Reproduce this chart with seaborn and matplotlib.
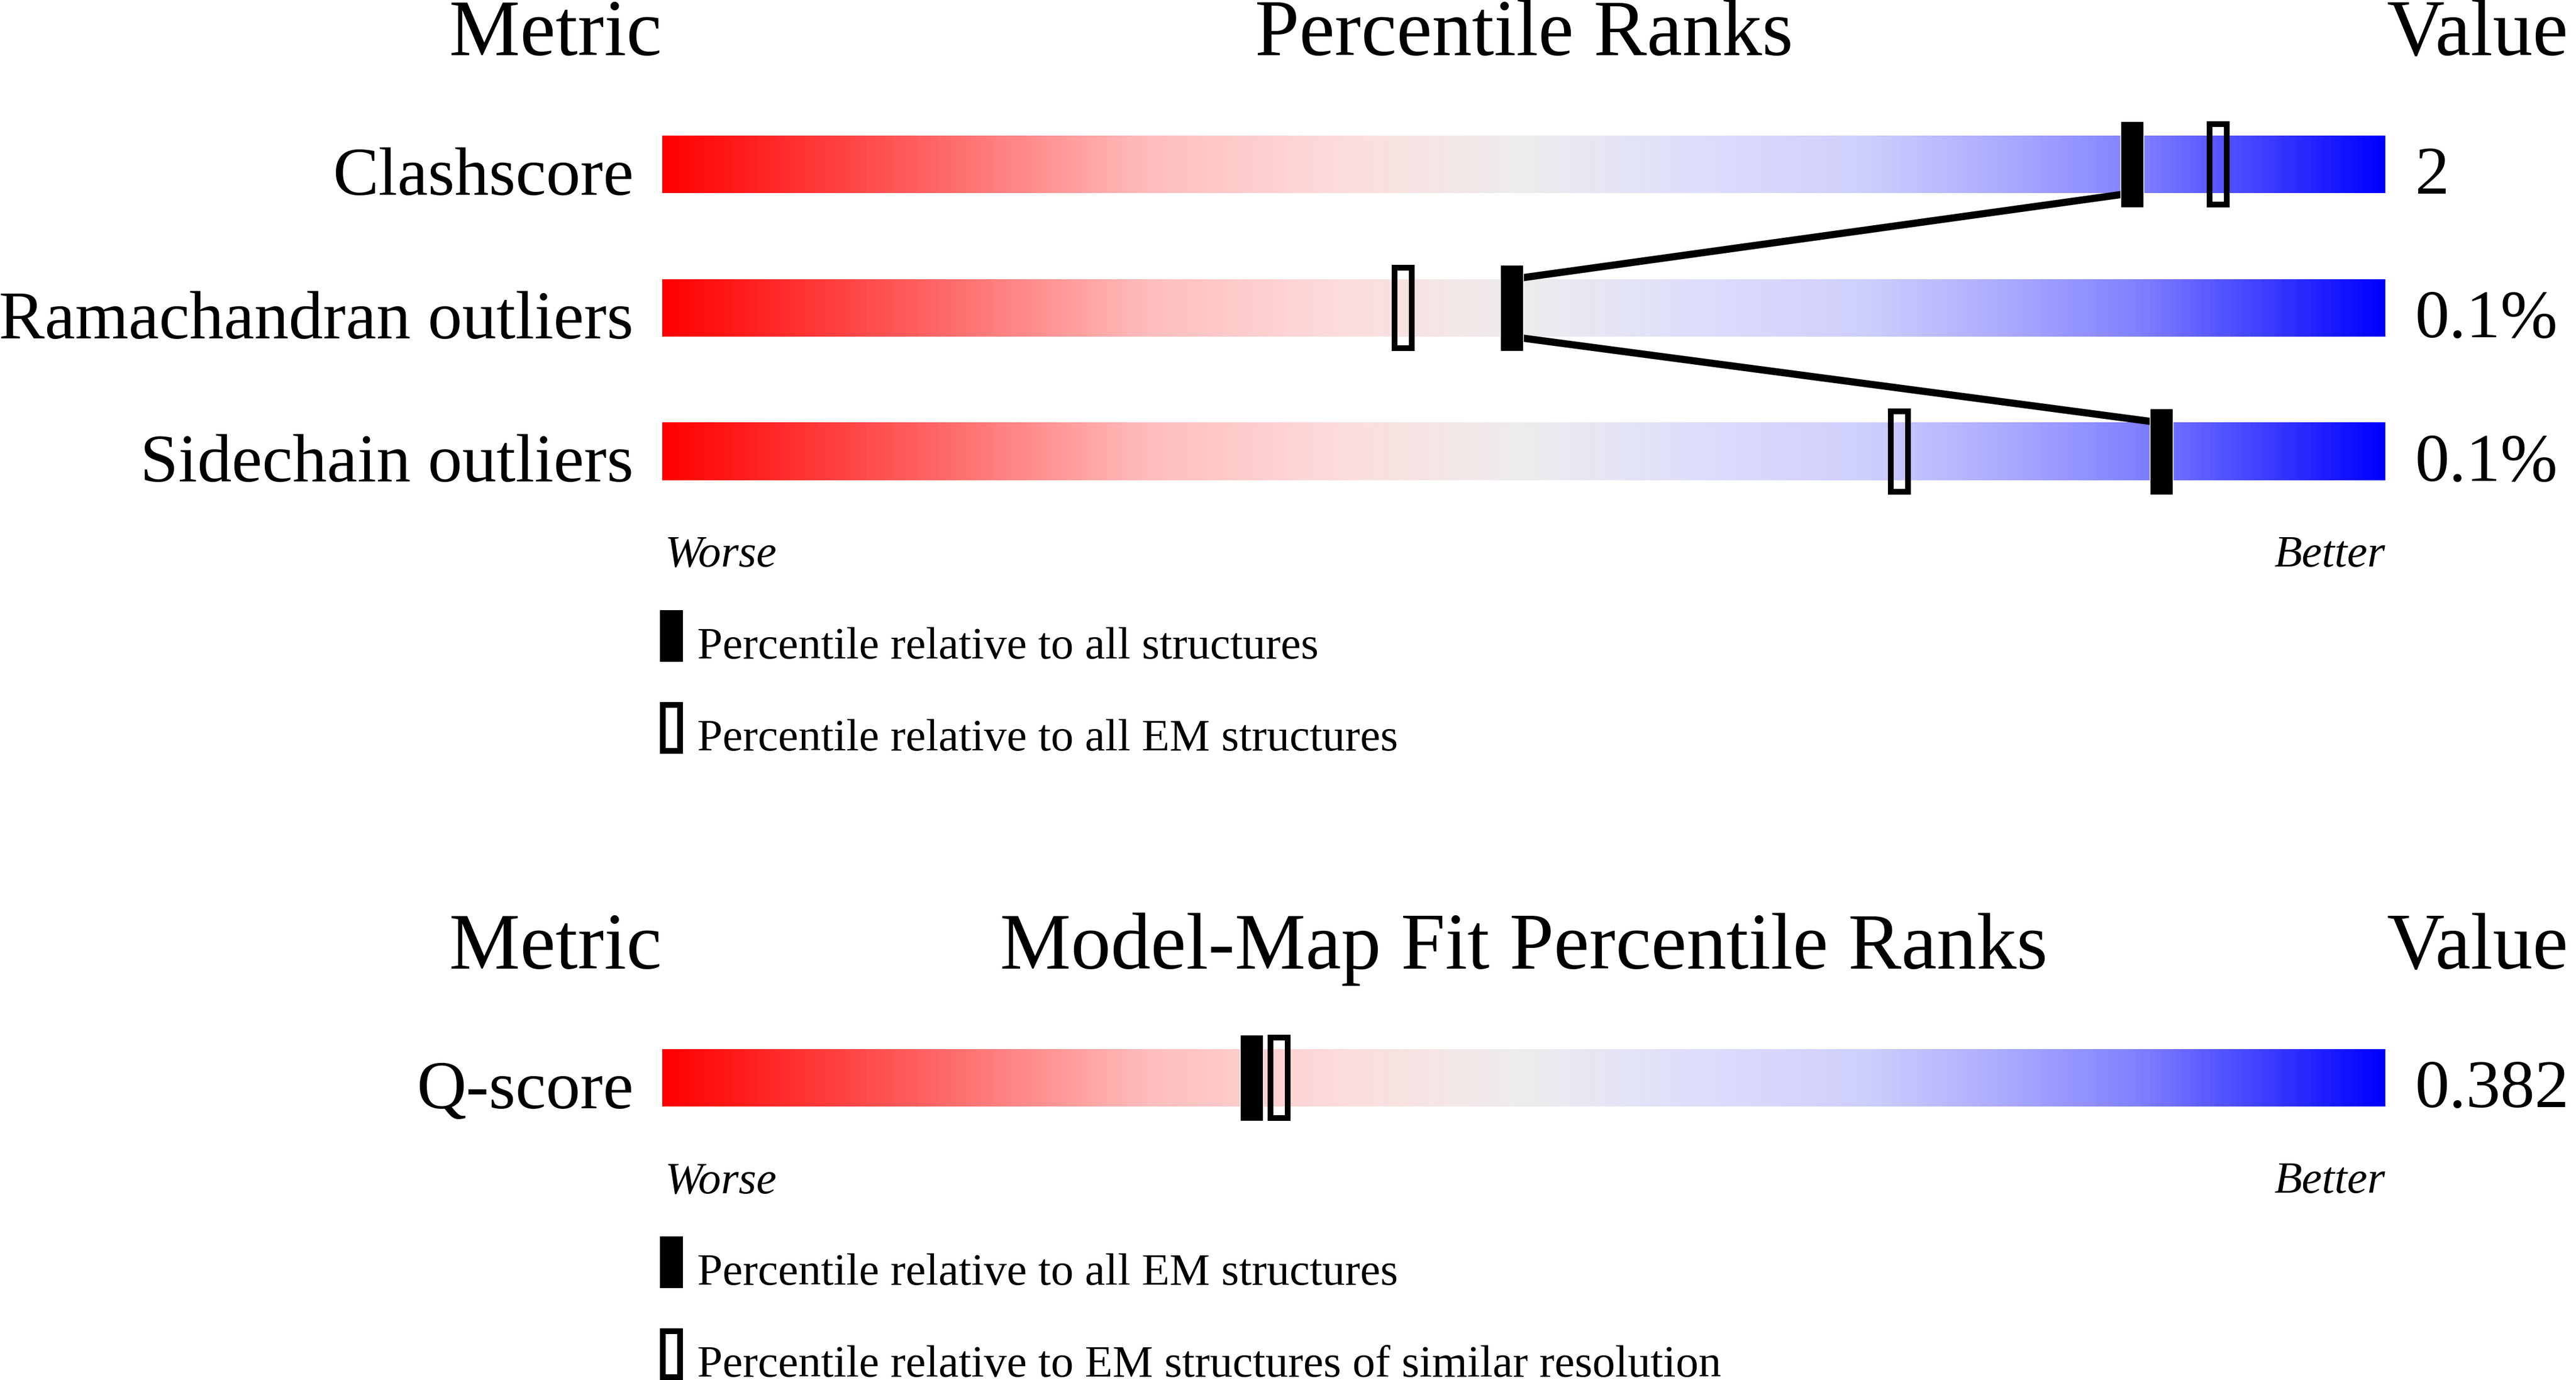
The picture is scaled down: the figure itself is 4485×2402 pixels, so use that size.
import numpy as np
import pandas as pd
import matplotlib
matplotlib.use("Agg")
import matplotlib.pyplot as plt
from matplotlib.colors import LinearSegmentedColormap
from matplotlib.patches import Rectangle
import seaborn as sns

# ---------------------------------------------------------
# data
# ---------------------------------------------------------
geom_metrics = ["Clashscore", "Ramachandran outliers", "Sidechain outliers"]
geom_values = ["2", "0.1%", "0.1%"]
geom_pct_all = [85.3, 49.3, 87.0]      # filled marker
geom_pct_em = [90.3, 43.0, 71.8]       # open marker

fit_metrics = ["Q-score"]
fit_values = ["0.382"]
fit_pct_all_em = [34.2]                # filled marker
fit_pct_similar = [35.8]               # open marker

legend_geom = ["Percentile relative to all structures",
               "Percentile relative to all EM structures"]
legend_fit = ["Percentile relative to all EM structures",
              "Percentile relative to EM structures of similar resolution"]

# ---------------------------------------------------------
# style
# ---------------------------------------------------------
sns.set_theme(style="white")
plt.rcParams["font.family"] = ["Liberation Serif", "DejaVu Serif"]
plt.rcParams["text.color"] = "black"

W, H = 4485, 2402
BAR_L, BAR_W = 1153, 3000
ROW_PX = 250

slider = LinearSegmentedColormap.from_list("slider", [
    (0.00, (1.00, 0.00, 0.00)),
    (0.15, (1.00, 0.38, 0.38)),
    (0.28, (1.00, 0.74, 0.74)),
    (0.40, (0.99, 0.87, 0.87)),
    (0.50, (0.93, 0.93, 0.93)),
    (0.60, (0.87, 0.87, 0.99)),
    (0.70, (0.81, 0.81, 0.99)),
    (0.78, (0.67, 0.67, 1.00)),
    (0.86, (0.50, 0.50, 1.00)),
    (1.00, (0.00, 0.00, 1.00)),
])
grad = np.linspace(0, 1, 600).reshape(1, -1)

HDR, LBL, SMALL = 100, 86, 57
BLACK_W = 40 / 30          # percentile units (30 px per unit)
OPEN_W = 30 / 30
EDGE = 7.2


def make_axes(top_px, nrows):
    top = top_px - ROW_PX / 2
    return fig.add_axes([BAR_L / W, 1 - (top + nrows * ROW_PX) / H,
                         BAR_W / W, nrows * ROW_PX / H])


def draw_section(ax, title, metrics, values, pct_fill, pct_open, legend):
    n = len(metrics)
    rows = np.arange(n)
    for r in rows:
        ax.imshow(grad, cmap=slider, aspect="auto",
                  extent=[0, 100, r + 0.2, r - 0.2], zorder=1)

    # connecting line between filled markers
    if n > 1:
        xs, ys = [], []
        for i in range(n):
            if i > 0:
                xs.append(pct_fill[i]); ys.append(rows[i] - 0.2)
            if i < n - 1:
                xs.append(pct_fill[i]); ys.append(rows[i] + 0.2)
        line_df = pd.DataFrame({"pct": xs, "row": ys})
        sns.lineplot(data=line_df, x="pct", y="row", sort=False,
                     estimator=None, color="black", ax=ax, zorder=2)
        for ln in ax.lines:
            ln.set_linewidth(9)

    # markers
    ax.bar(pct_fill, 0.6, bottom=rows - 0.3, width=BLACK_W,
           color="black", zorder=3)
    ax.bar(pct_open, 0.56, bottom=rows - 0.28, width=OPEN_W,
           facecolor="none", edgecolor="black", lw=EDGE, zorder=3)

    ax.set_xlim(0, 100)
    ax.set_ylim(n - 0.5, -0.5)
    ax.axis("off")

    # texts
    ax.text(-0.03, -0.76, "Metric", ha="right", va="baseline", fontsize=HDR)
    ax.text(50, -0.76, title, ha="center", va="baseline", fontsize=HDR)
    ax.text(100.07, -0.76, "Value", ha="left", va="baseline", fontsize=HDR)
    for r, m, v in zip(rows, metrics, values):
        ax.text(-1.67, r + 0.21, m, ha="right", va="baseline", fontsize=LBL)
        ax.text(101.73, r + 0.205, v, ha="left", va="baseline", fontsize=LBL)
    yb = rows[-1] + 0.8
    ax.text(0.15, yb, "Worse", ha="left", va="baseline", fontsize=SMALL,
            style="italic")
    ax.text(100, yb, "Better", ha="right", va="baseline", fontsize=SMALL,
            style="italic")

    # legend
    y1 = rows[-1] + 1.104
    ax.add_patch(Rectangle((-0.13, y1), BLACK_W, 0.36, facecolor="black",
                           edgecolor="none", clip_on=False))
    ax.text(2.03, y1 + 0.335, legend[0], ha="left", va="baseline",
            fontsize=SMALL, clip_on=False)
    y2 = y1 + 0.64
    ax.add_patch(Rectangle((0.04, y2 + 0.02), OPEN_W, 0.32, facecolor="none",
                           edgecolor="black", lw=EDGE, clip_on=False))
    ax.text(2.03, y2 + 0.335, legend[1], ha="left", va="baseline",
            fontsize=SMALL, clip_on=False)


fig = plt.figure(figsize=(W / 100, H / 100), dpi=100)
ax1 = make_axes(286, 3)
draw_section(ax1, "Percentile Ranks", geom_metrics, geom_values,
             geom_pct_all, geom_pct_em, legend_geom)
ax2 = make_axes(1876, 1)
draw_section(ax2, "Model-Map Fit Percentile Ranks", fit_metrics, fit_values,
             fit_pct_all_em, fit_pct_similar, legend_fit)

fig.savefig("out.png", dpi=100, facecolor="white")
